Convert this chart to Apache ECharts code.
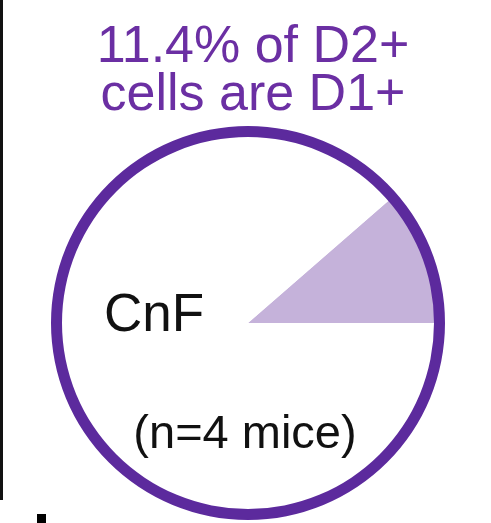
<!DOCTYPE html>
<html><head><meta charset="utf-8">
<script src="https://cdn.jsdelivr.net/npm/echarts@6/dist/echarts.min.js"></script>
<style>html,body{margin:0;padding:0;background:#fff}#c{width:491px;height:523px}</style>
</head><body><div id="c"></div>
<script>
const categories = ['D1+', 'D1-'];
const values = [11.4, 88.6];
const titleLines = ['11.4% of D2+', 'cells are D1+'];
const regionLabel = 'CnF';
const noteLabel = '(n=4 mice)';

const chart = echarts.init(document.getElementById('c'));
chart.setOption({
  animation: false,
  graphic: [
    {type:'rect', shape:{x:0,y:0,width:3,height:500}, style:{fill:'#111'}},
    {type:'rect', shape:{x:37,y:514,width:9,height:9}, style:{fill:'#000'}},
    {type:'text', x:253, y:48, style:{text:titleLines[0], font:'52px "Liberation Sans", Arial, sans-serif', fill:'#6b2fa3', align:'center', verticalAlign:'middle'}},
    {type:'text', x:253, y:96, style:{text:titleLines[1], font:'52px "Liberation Sans", Arial, sans-serif', fill:'#6b2fa3', align:'center', verticalAlign:'middle'}},
    {type:'text', x:154, y:316, z:10, style:{text:regionLabel, font:'53px "Liberation Sans", Arial, sans-serif', fill:'#111', align:'center', verticalAlign:'middle'}},
    {type:'text', x:245, y:435, z:10, style:{text:noteLabel, font:'47px "Liberation Sans", Arial, sans-serif', fill:'#111', align:'center', verticalAlign:'middle'}}
  ],
  series: [
    {type:'pie', center:[248,323], radius:[0,187], startAngle:0, clockwise:false, silent:true,
     label:{show:false}, labelLine:{show:false},
     data: categories.map((c,i)=>({name:c, value:values[i], itemStyle:{color: i===0 ? '#c5b2da' : '#ffffff'}}))},
    {type:'pie', center:[248,323], radius:[186,197], silent:true, label:{show:false}, labelLine:{show:false},
     data:[{value:1, itemStyle:{color:'#5c2a9d'}}]}
  ]
});
</script></body></html>
